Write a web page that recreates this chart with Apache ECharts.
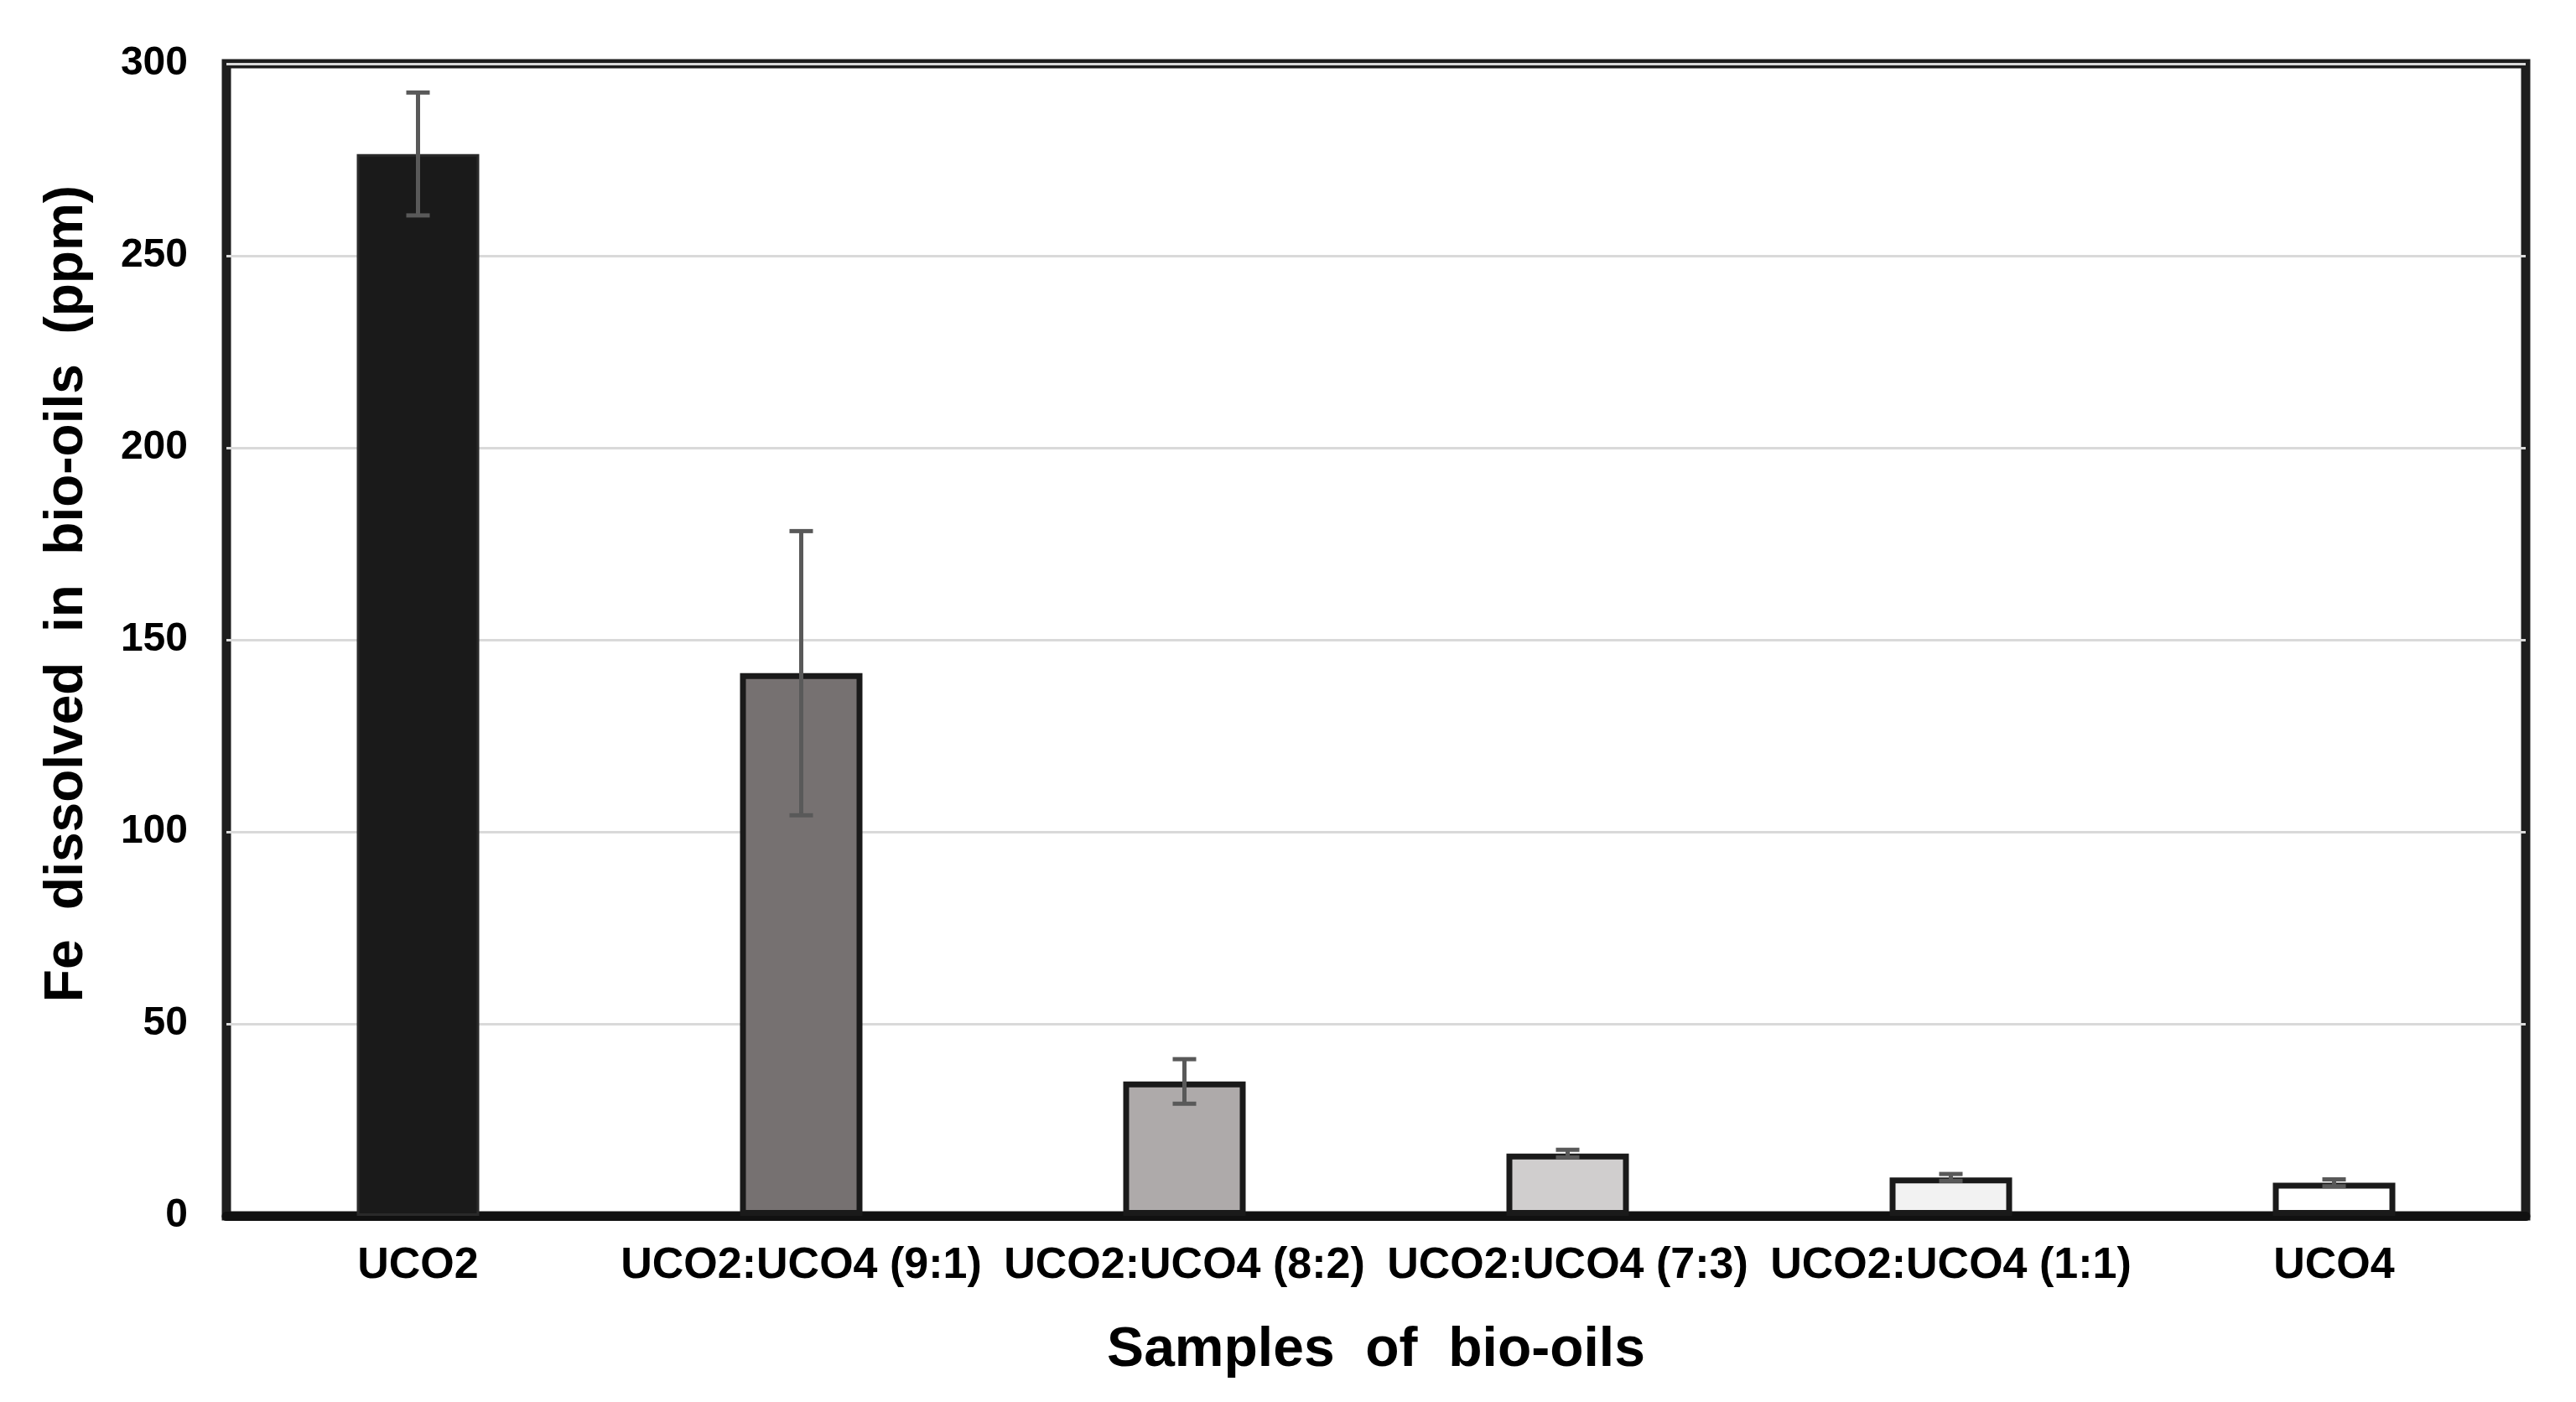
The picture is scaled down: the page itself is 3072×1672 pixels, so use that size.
<!DOCTYPE html>
<html>
<head>
<meta charset="utf-8">
<script src="https://cdn.jsdelivr.net/npm/echarts@6/dist/echarts.min.js"></script>
<style>
  html, body { margin: 0; padding: 0; background: #fff; }
  #chart { width: 3072px; height: 1672px; }
</style>
</head>
<body>
<div id="chart"></div>
<script>
var samples = ['UCO2', 'UCO2:UCO4 (9:1)', 'UCO2:UCO4 (8:2)', 'UCO2:UCO4 (7:3)', 'UCO2:UCO4 (1:1)', 'UCO4']
var feValues = [276.5, 141.3, 35.0, 16.2, 10.0, 8.6]
var feErrors = [16, 37, 5.8, 1.0, 0.9, 0.9]
var yTicks = [0, 50, 100, 150, 200, 250, 300]

// fill per bar
var barColors = ['#1a1a1a', '#767171', '#aeaaaa', '#d0cece', '#f2f2f2', '#ffffff']

var font = "'Liberation Sans', Arial, sans-serif"
var myChart = echarts.init(document.getElementById('chart'))

var barData = feValues.map(function (v, i) {
  return {
    value: v,
    itemStyle: {
      color: barColors[i],
      borderColor: i === 0 ? '#2a2a2a' : '#1a1a1a',
      borderWidth: i === 0 ? 3 : 7
    }
  }
})
var errData = feValues.map(function (v, i) {
  return [i, v - feErrors[i], v + feErrors[i]]
})

myChart.setOption({
  animation: false,
  backgroundColor: '#fff',
  grid: {
    left: 270, right: 60, top: 76, bottom: 222,
    show: true, borderColor: '#1e1e1e', borderWidth: 11, backgroundColor: '#fff'
  },
  xAxis: {
    type: 'category',
    data: samples,
    name: 'Samples  of  bio-oils',
    nameLocation: 'middle',
    nameGap: 128,
    nameTextStyle: { fontFamily: font, fontWeight: 'bold', fontSize: 66, color: '#000' },
    axisLine: { lineStyle: { color: '#111', width: 11 } },
    axisTick: { show: false },
    axisLabel: { interval: 0, margin: 34, fontFamily: font, fontWeight: 'bold', fontSize: 52, color: '#000' }
  },
  yAxis: {
    type: 'value',
    min: yTicks[0],
    max: yTicks[yTicks.length - 1],
    interval: 50,
    name: 'Fe  dissolved  in  bio-oils  (ppm)',
    nameLocation: 'middle',
    nameGap: 158,
    nameTextStyle: { fontFamily: font, fontWeight: 'bold', fontSize: 64, color: '#000', padding: [0, 0, 0, 110] },
    axisLine: { show: false },
    axisTick: { show: false },
    splitLine: { lineStyle: { color: '#d9d9d9', width: 3 } },
    axisLabel: { margin: 46, fontFamily: font, fontWeight: 'bold', fontSize: 48, color: '#000' }
  },
  series: [
    {
      type: 'bar',
      data: barData,
      barWidth: 146,
      z: 2
    },
    {
      type: 'custom',
      z: 3,
      data: errData,
      renderItem: function (params, api) {
        var x = api.coord([api.value(0), 0])[0]
        var lo = api.coord([api.value(0), api.value(1)])[1]
        var hi = api.coord([api.value(0), api.value(2)])[1]
        var cap = 14
        var st = { stroke: '#595959', lineWidth: 5 }
        return {
          type: 'group',
          children: [
            { type: 'line', shape: { x1: x, y1: lo, x2: x, y2: hi }, style: st },
            { type: 'line', shape: { x1: x - cap, y1: hi, x2: x + cap, y2: hi }, style: st },
            { type: 'line', shape: { x1: x - cap, y1: lo, x2: x + cap, y2: lo }, style: st }
          ]
        }
      }
    }
  ]
})
</script>
</body>
</html>
